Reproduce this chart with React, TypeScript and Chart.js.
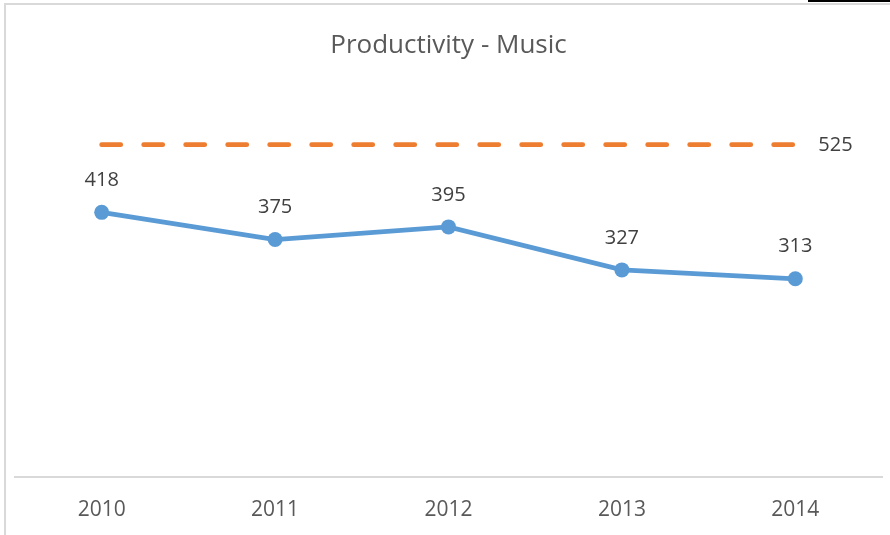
import React, { useEffect, useRef } from "react";
import { Chart, registerables } from "chart.js";

Chart.register(...registerables);

const years = ["2010", "2011", "2012", "2013", "2014"];
const productivity = [418, 375, 395, 327, 313];
const target = [525, 525, 525, 525, 525];
const chartTitle = "Productivity - Music";

const FONT = "'Open Sans', 'Noto Sans', sans-serif";

const labelPlugin = {
  id: "valueLabels",
  afterDatasetsDraw(chart: any) {
    const ctx = chart.ctx;
    ctx.save();
    ctx.font = `20px ${FONT}`;
    ctx.fillStyle = "#404040";
    ctx.textBaseline = "middle";
    const m0 = chart.getDatasetMeta(0);
    m0.data.forEach((pt: any, i: number) => {
      ctx.textAlign = "center";
      ctx.fillText(String(productivity[i]), pt.x, pt.y - 32);
    });
    const m1 = chart.getDatasetMeta(1);
    const last = m1.data[m1.data.length - 1];
    ctx.textAlign = "left";
    ctx.fillText(String(target[target.length - 1]), last.x + 23, last.y + 1);
    ctx.restore();
  },
};

export default function App() {
  const ref = useRef<HTMLCanvasElement>(null);
  useEffect(() => {
    const chart = new Chart(ref.current!, {
      type: "line",
      data: {
        labels: years,
        datasets: [
          {
            label: "Productivity",
            data: productivity,
            borderColor: "#5B9BD5",
            backgroundColor: "#5B9BD5",
            borderWidth: 4.8,
            pointRadius: 7.5,
            pointBorderWidth: 0,
            pointBackgroundColor: "#5B9BD5",
            tension: 0,
          },
          {
            label: "Target",
            data: target,
            borderColor: "#ED7D31",
            backgroundColor: "#ED7D31",
            borderWidth: 4.8,
            borderDash: [19, 23],
            borderCapStyle: "round",
            pointRadius: 0,
            tension: 0,
          },
        ],
      },
      options: {
        animation: false,
        responsive: false,
        maintainAspectRatio: false,
        layout: { padding: { left: 15, right: 8, top: 0, bottom: -9 } },
        plugins: {
          legend: { display: false },
          tooltip: { enabled: false },
          title: {
            display: true,
            text: chartTitle,
            color: "#595959",
            font: { family: FONT, size: 26, weight: "normal" },
            padding: { top: 30, bottom: 36 },
          },
        },
        scales: {
          x: {
            offset: true,
            grid: { display: false, drawTicks: false },
            border: { display: true, color: "#d9d9d9", width: 2 },
            ticks: {
              color: "#595959",
              font: { family: FONT, size: 21 },
              padding: 21,
              maxRotation: 0,
            },
          },
          y: {
            display: false,
            min: 0,
            max: 600,
          },
        },
      },
      plugins: [labelPlugin],
    });
    return () => chart.destroy();
  }, []);
  return (
    <div style={{ position: "fixed", left: 0, top: 0, width: 890, height: 535, background: "#fff" }}>
      <canvas ref={ref} width={890} height={535} style={{ position: "absolute", left: 0, top: 0 }} />
      <div style={{ position: "absolute", left: 4, top: 3, width: 886, height: 1.5, background: "#d9d9d9" }} />
      <div style={{ position: "absolute", left: 4, top: 3, width: 1.5, height: 532, background: "#d9d9d9" }} />
      <div style={{ position: "absolute", left: 808, top: 0, width: 82, height: 2, background: "#000" }} />
    </div>
  );
}
